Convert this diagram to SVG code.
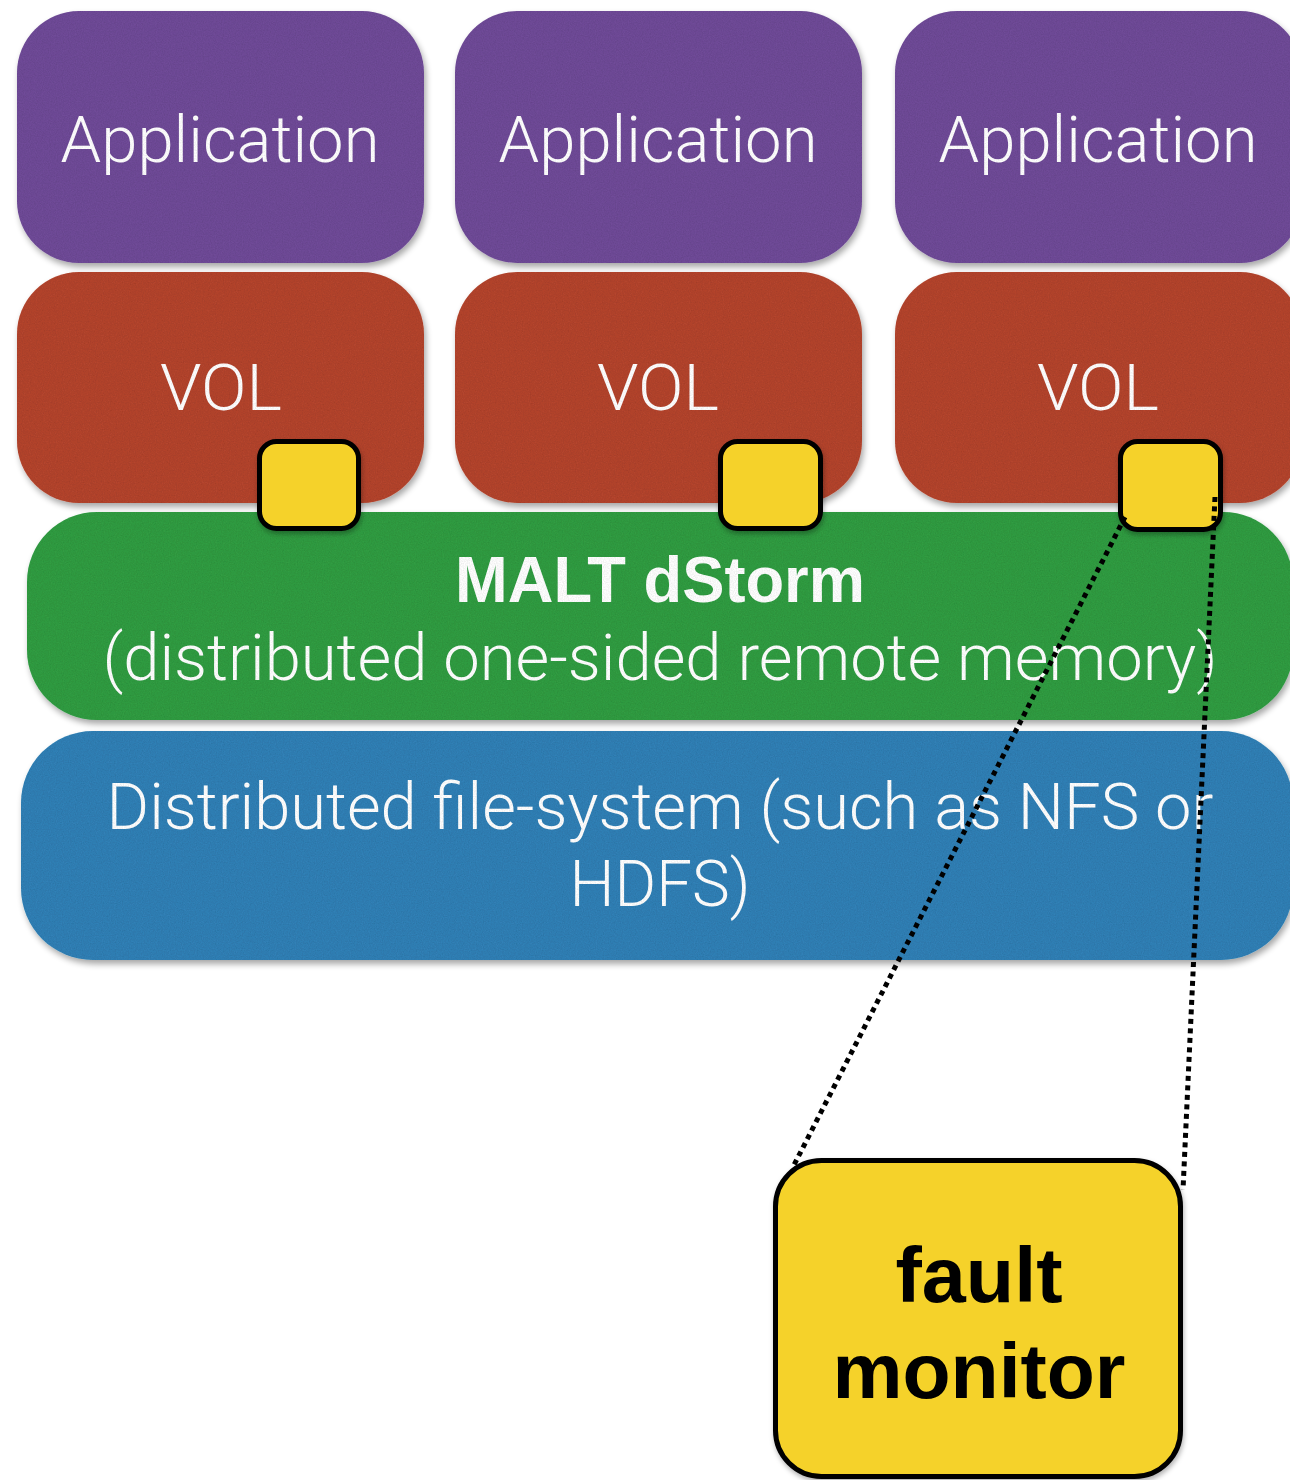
<svg xmlns="http://www.w3.org/2000/svg" width="1290" height="1480" viewBox="0 0 1290 1480">
  <defs>
    <!-- soft drop shadow plus a faint felt grain for the coloured tiles -->
    <filter id="felt" x="-5%" y="-5%" width="112%" height="115%">
      <feTurbulence type="fractalNoise" baseFrequency="0.85" numOctaves="2" seed="3" result="noise"/>
      <feColorMatrix in="noise" type="matrix" values="0 0 0 0 0  0 0 0 0 0  0 0 0 0 0  0.3 0 0 0 -0.09" result="grain"/>
      <feComposite in="grain" in2="SourceGraphic" operator="in" result="tex"/>
      <feGaussianBlur in="SourceAlpha" stdDeviation="3"/>
      <feOffset dx="2" dy="4" result="off"/>
      <feComponentTransfer in="off" result="shadow">
        <feFuncA type="linear" slope="0.35"/>
      </feComponentTransfer>
      <feMerge>
        <feMergeNode in="shadow"/>
        <feMergeNode in="SourceGraphic"/>
        <feMergeNode in="tex"/>
      </feMerge>
    </filter>
    <filter id="shade" x="-10%" y="-10%" width="125%" height="125%">
      <feDropShadow dx="1" dy="3" stdDeviation="2.5" flood-color="#000" flood-opacity="0.3"/>
    </filter>
  </defs>
  <style>
    .app { fill: #704C98; }
    .vol { fill: #B4452F; }
    .dsm { fill: #309C43; }
    .dfs { fill: #3080B6; }
    .plug { fill: #F5D22A; stroke: #000; stroke-width: 5; }
    .mon { fill: #F5D22A; stroke: #000; stroke-width: 5; }
    .lbl { font-family: Roboto, "Liberation Sans", Arial, sans-serif; font-weight: 300; fill: #fff; text-anchor: middle; font-size: 64px; }
    .bold { font-family: "Liberation Sans", Arial, Helvetica, sans-serif; font-weight: bold; }
    .dark { fill: #000; font-size: 78px; }
    .dots { fill: none; stroke: #000; stroke-width: 5; stroke-dasharray: 5 4.5; }
  </style>

  <!-- application tiles -->
  <g id="app1" filter="url(#felt)">
    <rect class="app" x="17" y="11" width="407" height="252" rx="62"/>
    <text class="lbl" x="220" y="162" textLength="319" lengthAdjust="spacingAndGlyphs">Application</text>
  </g>
  <g id="app2" filter="url(#felt)">
    <rect class="app" x="455" y="11" width="407" height="252" rx="62"/>
    <text class="lbl" x="658" y="162" textLength="319" lengthAdjust="spacingAndGlyphs">Application</text>
  </g>
  <g id="app3" filter="url(#felt)">
    <rect class="app" x="895" y="11" width="407" height="252" rx="62"/>
    <text class="lbl" x="1098" y="162" textLength="319" lengthAdjust="spacingAndGlyphs">Application</text>
  </g>

  <!-- VOL tiles -->
  <g id="vol1" filter="url(#felt)">
    <rect class="vol" x="17" y="272" width="407" height="231" rx="62"/>
    <text class="lbl" x="221" y="410" textLength="122" lengthAdjust="spacingAndGlyphs">VOL</text>
  </g>
  <g id="vol2" filter="url(#felt)">
    <rect class="vol" x="455" y="272" width="407" height="231" rx="62"/>
    <text class="lbl" x="658" y="410" textLength="122" lengthAdjust="spacingAndGlyphs">VOL</text>
  </g>
  <g id="vol3" filter="url(#felt)">
    <rect class="vol" x="895" y="272" width="407" height="231" rx="62"/>
    <text class="lbl" x="1098" y="410" textLength="122" lengthAdjust="spacingAndGlyphs">VOL</text>
  </g>

  <!-- shared layers -->
  <g id="dstorm" filter="url(#felt)">
    <rect class="dsm" x="27" y="512" width="1266" height="208" rx="70"/>
    <text class="lbl bold" x="660" y="602" font-size="63" textLength="410" lengthAdjust="spacingAndGlyphs">MALT dStorm</text>
    <text class="lbl" x="660" y="680" textLength="1115" lengthAdjust="spacingAndGlyphs">(distributed one-sided remote memory)</text>
  </g>
  <g id="dfs" filter="url(#felt)">
    <rect class="dfs" x="21" y="731" width="1272" height="229" rx="72"/>
    <text class="lbl" x="660" y="829" textLength="1107" lengthAdjust="spacingAndGlyphs">Distributed file-system (such as NFS or</text>
    <text class="lbl" x="660" y="906" textLength="181" lengthAdjust="spacingAndGlyphs">HDFS)</text>
  </g>

  <!-- plug-in squares on each VOL -->
  <g id="plug1" filter="url(#shade)">
    <rect class="plug" x="259.5" y="441.5" width="99" height="87" rx="17"/>
  </g>
  <g id="plug2" filter="url(#shade)">
    <rect class="plug" x="720.5" y="441.5" width="100" height="87" rx="17"/>
  </g>
  <g id="plug3" filter="url(#shade)">
    <rect class="plug" x="1120.5" y="441.5" width="100" height="88" rx="17"/>
  </g>

  <!-- zoom lines from the third plug to the monitor -->
  <g id="connectors">
    <line class="dots" x1="1125" y1="517" x2="793" y2="1167"/>
    <line class="dots" x1="1215" y1="497" x2="1183" y2="1190"/>
  </g>

  <g id="monitor" filter="url(#shade)">
    <rect class="mon" x="775.5" y="1160.5" width="405" height="316" rx="46"/>
    <text class="lbl bold dark" x="979" y="1302" textLength="167" lengthAdjust="spacingAndGlyphs">fault</text>
    <text class="lbl bold dark" x="979" y="1398" textLength="293" lengthAdjust="spacingAndGlyphs">monitor</text>
  </g>
</svg>
